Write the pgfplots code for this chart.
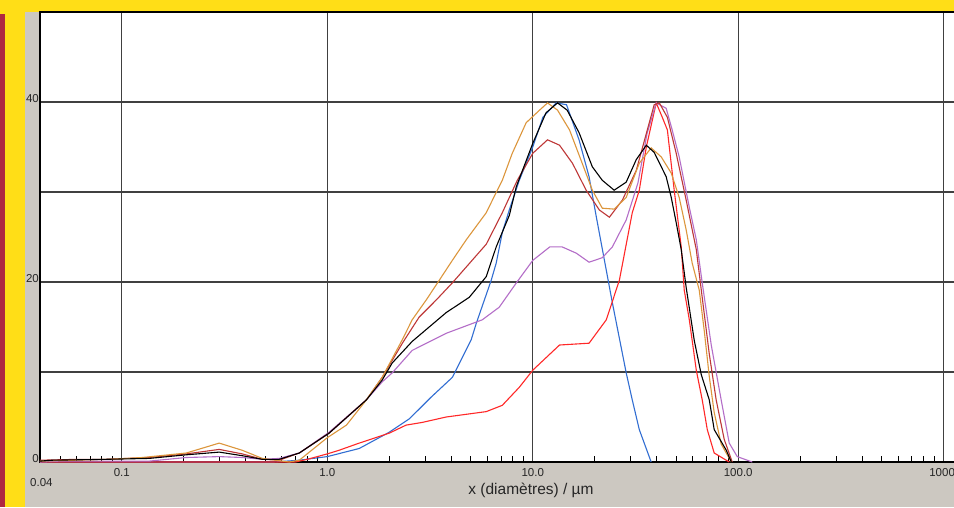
\documentclass[border=0pt]{standalone}
\usepackage{fontspec}
\setmainfont{Liberation Sans}
\usepackage{pgfplots}
\pgfplotsset{compat=1.18}

\definecolor{panelgrey}{RGB}{204,200,193}
\definecolor{frameyellow}{RGB}{255,222,23}
\definecolor{stripered}{RGB}{175,40,65}
\definecolor{corange}{RGB}{220,150,60}
\definecolor{cdarkred}{RGB}{190,55,55}
\definecolor{cpurple}{RGB}{180,110,200}
\definecolor{cblue}{RGB}{50,110,210}
\definecolor{cred}{RGB}{255,40,40}

\begin{document}
\begin{tikzpicture}
\useasboundingbox (0,0) rectangle (954pt,-507pt);
\clip (0,0) rectangle (954pt,-507pt);
% frame
\fill[panelgrey] (0,0) rectangle (954pt,-507pt);
\fill[frameyellow] (0,0) rectangle (954pt,-12pt);
\fill[frameyellow] (0,0) rectangle (25pt,-507pt);
\fill[stripered] (0,-14pt) rectangle (5pt,-507pt);

\begin{axis}[
    at={(40pt,-462pt)}, anchor=south west,
    scale only axis,
    width=920pt, height=450pt,
    xmode=log,
    xmin=0.04, xmax=1200,
    ymin=0, ymax=50,
    axis background/.style={fill=white},
    axis line style={black, line width=1.2pt},
    xtick={0.1,1,10,100,1000},
    xticklabels={0.1,1.0,10.0,100.0,1000.},
    minor xtick={0.05,0.06,0.07,0.08,0.09,0.2,0.3,0.4,0.5,0.6,0.7,0.8,0.9,
                 2,3,4,5,6,7,8,9,20,30,40,50,60,70,80,90,200,300,400,500,600,700,800,900},
    ytick={0,10,20,30,40},
    yticklabels={0,,20,,40},
    xtick pos=left, ytick pos=left,
    tick align=inside,
    major tick length=0pt,
    minor tick length=6pt,
    minor tick style={black, line width=0.8pt},
    xmajorgrids, ymajorgrids,
    major grid style={line width=1.1pt, draw=black!75},
    tick label style={font=\fontsize{11.5}{13}\selectfont, text=black!85},
    xticklabel style={anchor=north, yshift=-3pt},
    yticklabel style={anchor=base east, inner sep=1pt},
    every axis plot/.append style={line width=1.1pt},
]

% blue
\addplot[cblue] coordinates {
(0.04,0) (0.55,0) (0.73,0.2) (1.0,0.6) (1.43,1.5) (2.0,3.3) (2.51,4.8) (3.2,7.2)
(4.06,9.4) (5.02,13.6) (5.31,15.4) (6.28,20.2) (6.64,22.1) (7.11,25.5) (7.69,28.0)
(8.60,31.3) (10,35) (11.2,38.3) (13.0,39.9) (14.6,39.7) (16.8,35.8) (18.8,31.7)
(20.4,27.2) (24.4,17.7) (28.5,9.9) (30.5,6.9) (33.0,3.6) (37.7,0)
};

% red
\addplot[cred] coordinates {
(0.04,0) (0.7,0) (0.8,0.3) (1.0,0.9) (1.14,1.3) (1.43,2.1) (2.0,3.2) (2.42,4.1)
(2.90,4.4) (3.79,5.0) (5.94,5.6) (7.11,6.3) (8.60,8.3) (10,10.2) (13.5,13.0)
(18.8,13.2) (22.8,15.8) (26.4,20.2) (30.5,27.7) (33.0,30.2) (35.7,35) (39.9,39.9)
(42.7,38.3) (45.2,36.9) (48.8,30.2) (52.8,23.9) (54.6,19.1) (57.8,15.8) (62.5,10.2)
(66.8,6.9) (70.7,3.6) (76.4,1.0) (90.4,0)
};

% purple
\addplot[cpurple] coordinates {
(0.04,0.0) (0.05,0.1) (0.136,0.1) (0.206,0.5) (0.298,0.6) (0.386,0.5) (0.483,0.3)
(0.584,0.4) (0.731,1.0) (1.02,3.3) (1.55,6.9) (1.85,8.9) (2.07,9.9) (2.59,12.4)
(3.79,14.3) (5.68,15.8) (6.87,17.2) (8.32,19.9) (10,22.4) (12.1,23.9) (13.9,23.9)
(16.3,23.2) (18.8,22.2) (21.8,22.7) (24.4,23.9) (28.5,26.9) (32.5,31.0) (36.0,36.5)
(39.9,39.9) (44.6,39.3) (47.7,36.9) (51.6,33.9) (57.8,28.3) (62.5,24.7) (66.8,19.9)
(73.9,13.0) (82.6,6.9) (90.4,2.1) (98.9,0.6) (117,0)
};

% dark red
\addplot[cdarkred] coordinates {
(0.04,0.2) (0.062,0.3) (0.084,0.3) (0.136,0.5) (0.206,0.9) (0.298,1.4) (0.386,0.9)
(0.483,0.3) (0.584,0.2) (0.731,1.0) (1.02,3.2) (1.55,6.9) (1.85,9.4) (2.32,13.2)
(2.80,16.1) (3.39,18.0) (4.06,19.9) (5.94,24.2) (7.11,27.7) (8.41,31.3) (10,34.3)
(11.8,35.8) (13.5,35.2) (15.6,33.2) (18.2,30.2) (21.1,28.0) (23.6,27.2) (27.3,29.1)
(31.9,32.4) (36.1,36.9) (39.0,39.7) (41.3,39.9) (45.2,38.3) (49.9,34.3) (55.8,29.1)
(62.5,23.6) (66.1,19.1) (72.3,12.0) (78.1,6.9) (85.5,2.5) (93.5,0)
};

% orange
\addplot[corange] coordinates {
(0.04,0.1) (0.0869,0.3) (0.126,0.5) (0.206,1.0) (0.298,2.1) (0.386,1.3) (0.483,0.4)
(0.653,0.0) (0.731,0.2) (1.0,2.7) (1.24,4.1) (1.55,6.9) (1.85,9.4) (2.32,13.6)
(2.59,15.8) (3.03,18.0) (3.51,20.2) (4.06,22.4) (4.75,24.7) (5.94,27.7) (6.72,30.2)
(7.11,31.3) (7.95,34.3) (9.29,37.7) (10.8,39.1) (11.8,39.9) (13.2,39.1) (15.1,36.9)
(17.4,33.2) (19.5,30.2) (21.8,28.2) (24.9,28.1) (28.5,29.4) (33.0,33.2) (37.7,34.9)
(42.2,33.9) (47.2,32.1) (51.6,29.4) (55.8,25.8) (59.7,22.1) (64.6,19.1) (68.4,14.5)
(72.3,9.5) (76.4,5.5) (82.6,2.0) (92.5,0)
};

% black
\addplot[black] coordinates {
(0.04,0.1) (0.046,0.2) (0.084,0.3) (0.136,0.4) (0.206,0.8) (0.298,1.1) (0.386,0.7)
(0.483,0.3) (0.584,0.3) (0.731,1.0) (1.02,3.2) (1.55,6.9) (1.85,9.1) (2.07,11.0)
(2.59,13.4) (3.79,16.6) (4.91,18.3) (5.94,20.6) (6.64,23.9) (7.69,27.4) (8.32,30.6)
(10,35.4) (11.6,38.8) (13.2,39.9) (14.7,39.1) (16.8,36.6) (19.5,32.8) (21.8,31.3)
(24.9,30.2) (28.5,31.1) (31.9,33.6) (35.7,35.2) (39.0,34.4) (44.6,31.7) (47.2,29.4)
(49.9,26.6) (52.8,23.6) (55.8,19.4) (61.1,13.5) (66.1,9.7) (72.3,6.9) (76.4,3.6)
(87.5,1.3) (92.5,0)
};

\end{axis}

\node[anchor=base west, inner sep=0pt, font=\fontsize{11.5}{13}\selectfont, text=black!85]
  at (30pt,-486pt) {0.04};
\node[anchor=base, inner sep=0pt, font=\fontsize{15.5}{17}\selectfont, text=black!85]
  at (531pt,-494pt) {x (diamètres) / µm};
\end{tikzpicture}
\end{document}
